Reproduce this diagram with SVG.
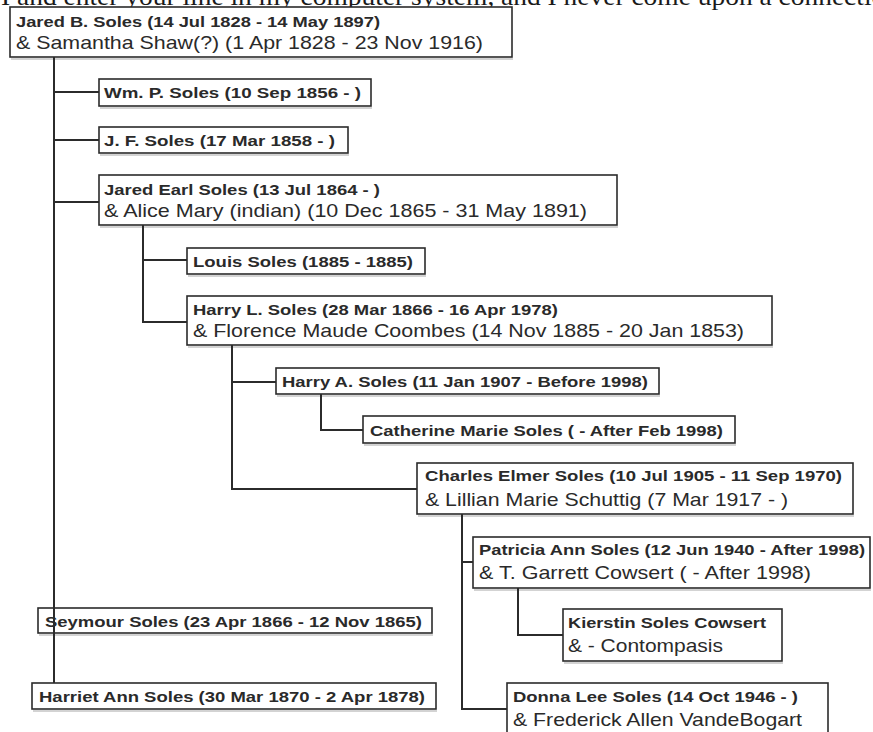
<svg xmlns="http://www.w3.org/2000/svg" width="873" height="732" viewBox="0 0 873 732">
<style>
.box{fill:#fff;stroke:#2b2b2b;stroke-width:1.6}
.sh{fill:none;stroke:#c4c4c4;stroke-width:1.5}
.b{font-family:"Liberation Sans",Arial,sans-serif;font-weight:bold;font-size:15px;fill:#2a2a2a}
.r{font-family:"Liberation Sans",Arial,sans-serif;font-size:18.5px;fill:#2a2a2a}
.top{font-family:"Liberation Serif","Times New Roman",serif;font-size:25px;fill:#1a1a1a}
.c{fill:none;stroke:#2b2b2b;stroke-width:2}
</style>
<rect width="873" height="732" fill="#fff"/>
<text class="top" x="1" y="5" textLength="898" lengthAdjust="spacingAndGlyphs">I and enter your line in my computer system, and I never come upon a connection</text>
<g id="nodes">
<g id="n-jared-b"><line class="sh" x1="11" y1="59" x2="513" y2="59"/><rect class="box" x="10" y="7" width="502" height="50"/><text class="b" x="16" y="27" textLength="364" lengthAdjust="spacingAndGlyphs">Jared B. Soles (14 Jul 1828 - 14 May 1897)</text><text class="r" x="16" y="49" textLength="467" lengthAdjust="spacingAndGlyphs">&amp; Samantha Shaw(?) (1 Apr 1828 - 23 Nov 1916)</text></g>
<g id="n-wm"><line class="sh" x1="100" y1="108" x2="372" y2="108"/><rect class="box" x="99" y="79" width="272" height="27"/><text class="b" x="104" y="98" textLength="257" lengthAdjust="spacingAndGlyphs">Wm. P. Soles (10 Sep 1856 - )</text></g>
<g id="n-jf"><line class="sh" x1="100" y1="155" x2="349" y2="155"/><rect class="box" x="99" y="127" width="249" height="26"/><text class="b" x="104" y="146" textLength="231" lengthAdjust="spacingAndGlyphs">J. F. Soles (17 Mar 1858 - )</text></g>
<g id="n-jared-earl"><line class="sh" x1="100" y1="227" x2="618" y2="227"/><rect class="box" x="99" y="175" width="518" height="50"/><text class="b" x="104" y="195" textLength="276" lengthAdjust="spacingAndGlyphs">Jared Earl Soles (13 Jul 1864 - )</text><text class="r" x="104" y="217" textLength="483" lengthAdjust="spacingAndGlyphs">&amp; Alice Mary (indian) (10 Dec 1865 - 31 May 1891)</text></g>
<g id="n-louis"><line class="sh" x1="188" y1="276" x2="426" y2="276"/><rect class="box" x="187" y="248" width="238" height="26"/><text class="b" x="193" y="267" textLength="220" lengthAdjust="spacingAndGlyphs">Louis Soles (1885 - 1885)</text></g>
<g id="n-harry-l"><line class="sh" x1="188" y1="347" x2="773" y2="347"/><rect class="box" x="187" y="296" width="585" height="49"/><text class="b" x="193" y="315" textLength="365" lengthAdjust="spacingAndGlyphs">Harry L. Soles (28 Mar 1866 - 16 Apr 1978)</text><text class="r" x="193" y="337" textLength="551" lengthAdjust="spacingAndGlyphs">&amp; Florence Maude Coombes (14 Nov 1885 - 20 Jan 1853)</text></g>
<g id="n-harry-a"><line class="sh" x1="277" y1="396" x2="660" y2="396"/><rect class="box" x="276" y="368" width="383" height="26"/><text class="b" x="282" y="387" textLength="366" lengthAdjust="spacingAndGlyphs">Harry A. Soles (11 Jan 1907 - Before 1998)</text></g>
<g id="n-catherine"><line class="sh" x1="364" y1="445" x2="736" y2="445"/><rect class="box" x="363" y="416" width="372" height="27"/><text class="b" x="370" y="436" textLength="353" lengthAdjust="spacingAndGlyphs">Catherine Marie Soles ( - After Feb 1998)</text></g>
<g id="n-charles"><line class="sh" x1="418" y1="516" x2="854" y2="516"/><rect class="box" x="417" y="463" width="436" height="51"/><text class="b" x="425" y="481" textLength="417" lengthAdjust="spacingAndGlyphs">Charles Elmer Soles (10 Jul 1905 - 11 Sep 1970)</text><text class="r" x="425" y="506" textLength="363" lengthAdjust="spacingAndGlyphs">&amp; Lillian Marie Schuttig (7 Mar 1917 - )</text></g>
<g id="n-patricia"><line class="sh" x1="474" y1="590" x2="871" y2="590"/><rect class="box" x="473" y="537" width="397" height="51"/><text class="b" x="479" y="555" textLength="386" lengthAdjust="spacingAndGlyphs">Patricia Ann Soles (12 Jun 1940 - After 1998)</text><text class="r" x="479" y="579" textLength="332" lengthAdjust="spacingAndGlyphs">&amp; T. Garrett Cowsert ( - After 1998)</text></g>
<g id="n-kierstin"><line class="sh" x1="564" y1="663" x2="783" y2="663"/><rect class="box" x="563" y="609" width="219" height="52"/><text class="b" x="568" y="628" textLength="198" lengthAdjust="spacingAndGlyphs">Kierstin Soles Cowsert</text><text class="r" x="568" y="652" textLength="155" lengthAdjust="spacingAndGlyphs">&amp; - Contompasis</text></g>
<g id="n-seymour"><line class="sh" x1="39" y1="635" x2="433" y2="635"/><rect class="box" x="38" y="608" width="394" height="25"/><text class="b" x="45" y="627" textLength="377" lengthAdjust="spacingAndGlyphs">Seymour Soles (23 Apr 1866 - 12 Nov 1865)</text></g>
<g id="n-harriet"><line class="sh" x1="33" y1="711" x2="437" y2="711"/><rect class="box" x="32" y="683" width="404" height="26"/><text class="b" x="39" y="702" textLength="386" lengthAdjust="spacingAndGlyphs">Harriet Ann Soles (30 Mar 1870 - 2 Apr 1878)</text></g>
<g id="n-donna"><rect class="box" x="507" y="683" width="321" height="60"/><text class="b" x="513" y="702" textLength="285" lengthAdjust="spacingAndGlyphs">Donna Lee Soles (14 Oct 1946 - )</text><text class="r" x="513" y="726" textLength="289" lengthAdjust="spacingAndGlyphs">&amp; Frederick Allen VandeBogart</text></g>
</g>
<g id="connectors">
<path class="c" d="M54,57 V683"/>
<path class="c" d="M54,92 H99"/>
<path class="c" d="M54,140 H99"/>
<path class="c" d="M54,202 H99"/>
<path class="c" d="M143,225 V322 H187"/>
<path class="c" d="M143,260 H187"/>
<path class="c" d="M232,345 V489 H417"/>
<path class="c" d="M232,382 H276"/>
<path class="c" d="M321,394 V430 H363"/>
<path class="c" d="M462,514 V709 H507"/>
<path class="c" d="M462,562 H473"/>
<path class="c" d="M518,588 V635 H563"/>
</g>
</svg>
